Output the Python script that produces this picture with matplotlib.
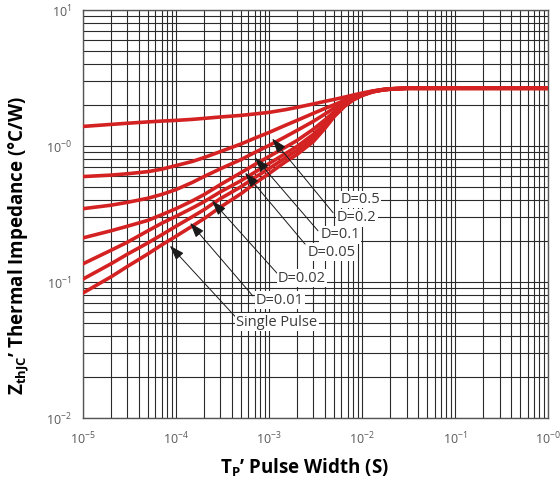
import matplotlib
matplotlib.use("Agg")
import matplotlib.pyplot as plt
from matplotlib.ticker import FixedLocator, FixedFormatter, LogLocator, NullFormatter

# 펄스 폭 (s) - 곡선 판독 지점
TP = [1e-5, 2e-5, 3e-5, 5e-5, 7e-5, 1e-4, 1.5e-4, 2e-4, 3e-4, 5e-4, 7e-4, 1e-3, 1.5e-3,
      2e-3, 3e-3, 4e-3, 5e-3, 6.5e-3, 8e-3, 1e-2, 1.3e-2, 1.7e-2, 2.2e-2, 3e-2, 1e-1, 1.0]

# Zth (°C/W), 그림에서 읽은 값 (위 곡선부터)
Z_D05 = [1.393, 1.441, 1.470, 1.504, 1.525, 1.543, 1.570, 1.596, 1.635, 1.679, 1.720, 1.767, 1.850,
         1.923, 2.040, 2.130, 2.200, 2.290, 2.370, 2.450, 2.540, 2.610, 2.645, 2.657, 2.657, 2.657]
Z_D02 = [0.596, 0.611, 0.625, 0.648, 0.675, 0.718, 0.770, 0.822, 0.910, 1.035, 1.140, 1.258, 1.420,
         1.543, 1.740, 1.890, 2.010, 2.170, 2.300, 2.420, 2.530, 2.605, 2.640, 2.657, 2.657, 2.657]
Z_D01 = [0.346, 0.367, 0.385, 0.413, 0.440, 0.478, 0.540, 0.596, 0.680, 0.795, 0.895, 1.009, 1.170,
         1.302, 1.520, 1.720, 1.900, 2.100, 2.260, 2.400, 2.525, 2.600, 2.640, 2.657, 2.657, 2.657]
Z_D005 = [0.211, 0.238, 0.257, 0.284, 0.312, 0.346, 0.395, 0.439, 0.520, 0.637, 0.730, 0.837, 0.980,
          1.098, 1.330, 1.560, 1.780, 2.030, 2.220, 2.380, 2.515, 2.595, 2.635, 2.657, 2.657, 2.657]
Z_D002 = [0.136, 0.171, 0.196, 0.238, 0.270, 0.304, 0.350, 0.389, 0.460, 0.556, 0.640, 0.743, 0.880,
          0.992, 1.220, 1.470, 1.720, 2.000, 2.200, 2.370, 2.510, 2.592, 2.633, 2.657, 2.657, 2.657]
Z_D001 = [0.105, 0.136, 0.160, 0.194, 0.222, 0.257, 0.302, 0.340, 0.410, 0.502, 0.585, 0.682, 0.820,
          0.927, 1.150, 1.410, 1.680, 1.980, 2.190, 2.360, 2.505, 2.590, 2.632, 2.657, 2.657, 2.657]
Z_SINGLE = [0.083, 0.109, 0.130, 0.161, 0.187, 0.217, 0.258, 0.292, 0.355, 0.446, 0.530, 0.627, 0.765,
            0.866, 1.080, 1.350, 1.640, 1.960, 2.180, 2.350, 2.500, 2.588, 2.630, 2.657, 2.657, 2.657]
CURVES = [Z_D05, Z_D02, Z_D01, Z_D005, Z_D002, Z_D001, Z_SINGLE]

# 라벨 문구와 위치
LABELS = ["D=0.5", "D=0.2", "D=0.1", "D=0.05", "D=0.02", "D=0.01", "Single Pulse"]
LABEL_X = [9.5e-3, 8.8e-3, 5.8e-3, 4.75e-3, 2.26e-3, 1.31e-3, 1.22e-3]
LABEL_Y = [0.403, 0.296, 0.222, 0.166, 0.107, 0.0736, 0.0507]

# 화살표 (꼬리 → 머리), D=0.5 는 화살표 없음
ARROW_TAIL = [(4.88e-3, 0.323), (3.36e-3, 0.238), (2.44e-3, 0.19),
              (1.22e-3, 0.116), (6.7e-4, 0.079), (4.3e-4, 0.056)]
ARROW_HEAD = [(1.08e-3, 1.135), (7.06e-4, 0.822), (5.52e-4, 0.637),
              (2.44e-4, 0.396), (1.42e-4, 0.272), (8.6e-5, 0.185)]

XTICKS = [1e-5, 1e-4, 1e-3, 1e-2, 1e-1, 1.0]
XTICK_LABELS = [r"10$^{\mathrm{-5}}$", r"10$^{\mathrm{-4}}$", r"10$^{\mathrm{-3}}$",
                r"10$^{\mathrm{-2}}$", r"10$^{\mathrm{-1}}$", r"10$^{\mathrm{-0}}$"]
YTICKS = [1e-2, 1e-1, 1.0, 10.0]
YTICK_LABELS = [r"10$^{\mathrm{-2}}$", r"10$^{\mathrm{-1}}$", r"10$^{\mathrm{-0}}$", r"10$^{\mathrm{1}}$"]

plt.rcParams["font.family"] = ["Open Sans", "DejaVu Sans"]
plt.rcParams["mathtext.fontset"] = "custom"
plt.rcParams["mathtext.rm"] = "Open Sans"
plt.rcParams["mathtext.bf"] = "Open Sans:bold"

RED = "#d42222"
GRID = "#2a2a2a"

fig = plt.figure(figsize=(5.6, 4.88), dpi=100)
ax = fig.add_axes([0.148, 0.1434, 0.831, 0.8361])
ax.set_xscale("log")
ax.set_yscale("log")
ax.set_xlim(1e-5, 1.0)
ax.set_ylim(1e-2, 10.0)

ax.xaxis.set_minor_locator(LogLocator(base=10, subs=range(2, 10)))
ax.yaxis.set_minor_locator(LogLocator(base=10, subs=range(2, 10)))
ax.xaxis.set_minor_formatter(NullFormatter())
ax.yaxis.set_minor_formatter(NullFormatter())
ax.grid(True, which="both", color=GRID, lw=0.8)
ax.set_axisbelow(True)

for z in CURVES:
    ax.plot(TP, z, color=RED, lw=2.6, solid_joinstyle="round", zorder=3)

for (tx, ty), (hx, hy) in zip(ARROW_TAIL, ARROW_HEAD):
    ax.annotate("", xy=(hx, hy), xytext=(tx, ty),
                arrowprops=dict(arrowstyle="-|>,head_length=0.65,head_width=0.22",
                                color="#1a1a1a", lw=0.7,
                                mutation_scale=14, shrinkA=0, shrinkB=0),
                zorder=4)

for lab, lx, ly in zip(LABELS, LABEL_X, LABEL_Y):
    ax.text(lx, ly, lab, ha="center", va="center", fontsize=10.5, color="#3a3a3a",
            bbox=dict(facecolor="white", edgecolor="none", pad=0.8), zorder=5)

ax.xaxis.set_major_locator(FixedLocator(XTICKS))
ax.xaxis.set_major_formatter(FixedFormatter(XTICK_LABELS))
ax.yaxis.set_major_locator(FixedLocator(YTICKS))
ax.yaxis.set_major_formatter(FixedFormatter(YTICK_LABELS))
ax.tick_params(which="both", length=0, colors="#5a5a5a", labelsize=9)
ax.tick_params(axis="x", pad=9)
ax.tick_params(axis="y", pad=8)
for s in ax.spines.values():
    s.set_color("#555555")
    s.set_linewidth(1.0)

ax.set_xlabel(r"T$_{\mathbf{P}}$’ Pulse Width (S)", fontsize=13.5, fontweight="bold", va="center")
ax.xaxis.set_label_coords(0.476, -0.1225)
ax.set_ylabel(r"Z$_{\mathbf{thJC}}$’ Thermal Impedance (°C/W)", fontsize=13.5,
              fontweight="bold", va="center")
ax.yaxis.set_label_coords(-0.14, 0.424)

fig.savefig("out.png", dpi=100)
